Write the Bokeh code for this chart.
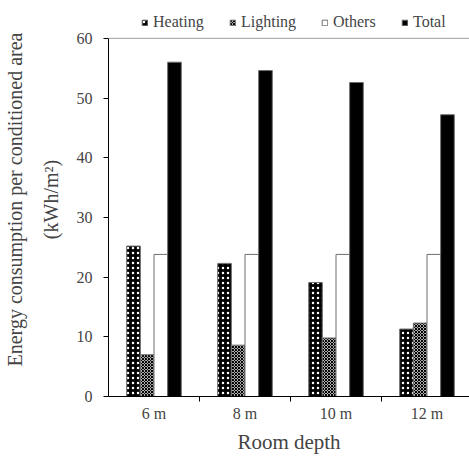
from bokeh.plotting import figure
from bokeh.models import (ColumnDataSource, Range1d, FixedTicker, Span, Legend, LegendItem,
                          Title)
from bokeh.transform import dodge
from bokeh.embed import file_html
from bokeh.resources import INLINE

categories = ["6 m", "8 m", "10 m", "12 m"]
heating = [25.2, 22.3, 19.1, 11.3]
lighting = [7.0, 8.6, 9.8, 12.3]
others = [23.8, 23.8, 23.8, 23.8]
total = [56.0, 54.6, 52.6, 47.2]
y_ticks = [0, 10, 20, 30, 40, 50, 60]
series_names = ["Heating", "Lighting", "Others", "Total"]

xpos = [i + 0.5 for i in range(len(categories))]
src = ColumnDataSource(dict(x=xpos, heating=heating, lighting=lighting,
                            others=others, total=total))

FONT = "Liberation Serif"
p = figure(width=469, height=456, output_backend="svg", toolbar_location=None,
           x_range=Range1d(0, 3.967), y_range=Range1d(0, 66),
           min_border_left=108, min_border_right=0, min_border_top=2,
           min_border_bottom=58)
p.background_fill_color = "white"
p.border_fill_color = "white"
p.outline_line_color = None
p.xgrid.visible = False
p.ygrid.visible = False

w = 0.15
r1 = p.vbar(x=dodge("x", -0.225), top="heating", width=w, source=src,
            fill_color="black", line_color="#6e6e6e", line_width=1,
            hatch_pattern="dot", hatch_color="white", hatch_scale=5, hatch_weight=1.5)
r2 = p.vbar(x=dodge("x", -0.075), top="lighting", width=w, source=src,
            fill_color="white", line_color="#6e6e6e", line_width=1,
            hatch_pattern="diagonal_cross", hatch_color="black", hatch_scale=3, hatch_weight=1.2)
r3 = p.vbar(x=dodge("x", 0.075), top="others", width=w, source=src,
            fill_color="white", line_color="#6e6e6e", line_width=1)
r4 = p.vbar(x=dodge("x", 0.225), top="total", width=w, source=src,
            fill_color="black", line_color="#6e6e6e", line_width=1)

p.add_layout(Span(location=60, dimension="width", line_color="#a0a0a0", line_width=1))

# x axis: labels at centers, ticks at category boundaries
xa = p.xaxis[0]
xa.ticker = FixedTicker(ticks=xpos, minor_ticks=[1, 2, 3])
xa.major_label_overrides = {x: c for x, c in zip(xpos, categories)}
xa.major_tick_line_color = None
xa.major_tick_out = 5
xa.minor_tick_line_color = "black"
xa.minor_tick_out = 5
xa.minor_tick_in = 0
xa.axis_line_color = "black"
xa.major_label_text_font = FONT
xa.major_label_text_font_size = "16px"
xa.major_label_standoff = 3
xa.axis_label = "Room depth"
xa.axis_label_text_font = FONT
xa.axis_label_text_font_size = "21px"
xa.axis_label_text_font_style = "normal"
xa.axis_label_standoff = 5

ya = p.yaxis[0]
ya.ticker = FixedTicker(ticks=y_ticks)
ya.bounds = (0, 60)
ya.major_tick_out = 5
ya.major_tick_in = 0
ya.minor_tick_line_color = None
ya.axis_line_color = "black"
ya.major_label_text_font = FONT
ya.major_label_text_font_size = "16px"
ya.major_label_standoff = 11

t1 = Title(text="(kWh/m²)", align="center", offset=-6, standoff=24,
           text_font=FONT, text_font_size="20px", text_font_style="normal")
t2 = Title(text="Energy consumption per conditioned area", align="center", offset=-6,
           standoff=0, text_font=FONT, text_font_size="20px", text_font_style="normal")
p.add_layout(t1, "left")
p.add_layout(t2, "left")

renderers = [r1, r2, r3, r4]
legend_x = [33, 121, 213, 293]
for name, r, lx in zip(series_names, renderers, legend_x):
    lg = Legend(items=[LegendItem(label=name, renderers=[r])],
                orientation="horizontal", location=(lx, 365),
                glyph_width=7, glyph_height=7, label_standoff=5, spacing=0,
                label_text_font=FONT, label_text_font_size="16px",
                border_line_color=None, background_fill_alpha=0,
                padding=2, margin=0)
    p.add_layout(lg)

open("out.html", "w").write(file_html(p, INLINE))
